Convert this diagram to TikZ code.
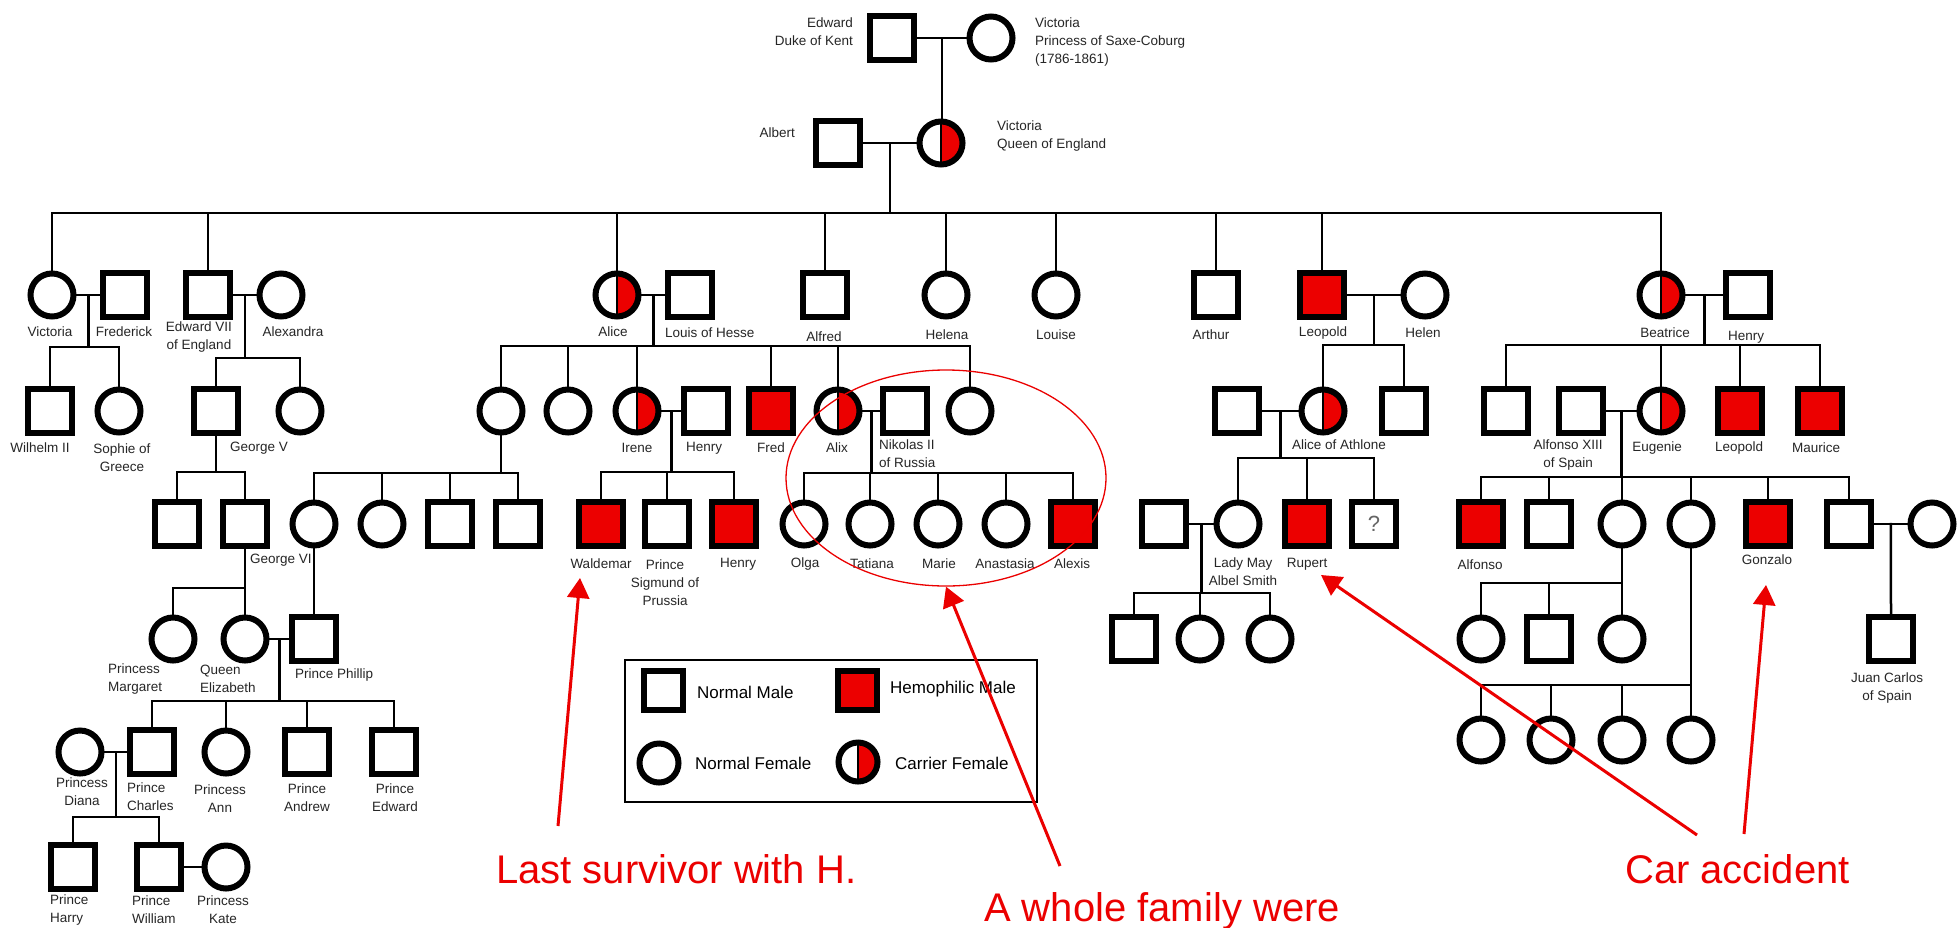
\documentclass[tikz,border=0pt]{standalone}
\usepackage{fontspec}
\setmainfont{Liberation Sans}
\usetikzlibrary{calc,arrows.meta,shapes.geometric}
\definecolor{hred}{RGB}{236,0,0}
\definecolor{notered}{RGB}{235,0,0}

% #1 start of the descent line, #2 height of the sibship bar,
% #3 first child, #4 last child, #5 all children
\newcommand\brood[5]{%
  \draw[kin] (#1) -- (#1 |- 0,#2);
  \draw[kin] (#3.north |- 0,#2) -- (#4.north |- 0,#2);
  \foreach \c in {#5} {\draw[kin] (\c.north) -- (\c.north |- 0,#2);}
}

\begin{document}
\begin{tikzpicture}[x=1pt,y=-1pt,
  kin/.style={line width=2.5, line cap=rect},
  sym/.style={draw, line width=6, inner sep=0, outer sep=3},
  male/.style={sym, rectangle, minimum size=44, fill=white},
  hemo/.style={male, fill=hred},
  female/.style={sym, circle, minimum size=43, fill=white},
  carrier/.style={female, path picture={
      \fill[hred] (path picture bounding box.north) rectangle (path picture bounding box.south east);
      \draw[line width=1.2] (path picture bounding box.north) -- (path picture bounding box.south);}},
  lbl/.style={font=\fontsize{13.5}{18}\selectfont, text=black!85, inner sep=0, align=center},
  lgtxt/.style={font=\fontsize{17}{20}\selectfont, inner sep=0, anchor=west},
  note/.style={text=notered, font=\fontsize{40}{44}\selectfont, inner sep=0, anchor=base west},
  warn/.style={draw=notered, line width=3, -{Triangle[length=20pt,width=22pt]}}]

\fill[white] (0,0) rectangle (1958,927);
\useasboundingbox (0,0) rectangle (1958,927);

% ---------- generation I and II ----------
\node[male] (edw) at (892,38) {};
\node[female] (vics) at (991,38) {};
\node[male] (albert) at (838,143) {};
\node[carrier] (queen) at (941,143) {};

% ---------- children of Victoria and Albert ----------
\node[female] (vicd) at (52,295) {};
\node[male] (fred) at (125,295) {};
\node[male] (ed7) at (208,295) {};
\node[female] (alexa) at (281,295) {};
\node[carrier] (alice) at (617,295) {};
\node[male] (louis) at (690,295) {};
\node[male] (alfred) at (825,295) {};
\node[female] (helena) at (946,295) {};
\node[female] (louise) at (1056,295) {};
\node[male] (arthur) at (1216,295) {};
\node[hemo] (leopold) at (1322,295) {};
\node[female] (helen) at (1425,295) {};
\node[carrier] (beatrice) at (1661,295) {};
\node[male] (henryb) at (1748,295) {};

% ---------- grandchildren ----------
\node[male] (wilhelm) at (50,411) {};
\node[female] (sophie) at (119,411) {};
\node[male] (georgev) at (216,411) {};
\node[female] (gvsis) at (300,411) {};
\node[female] (ac1) at (501,411) {};
\node[female] (ac2) at (568,411) {};
\node[carrier] (irene) at (637,411) {};
\node[male] (henryi) at (706,411) {};
\node[hemo] (fredh) at (771,411) {};
\node[carrier] (alix) at (838,411) {};
\node[male] (nikolas) at (905,411) {};
\node[female] (ac3) at (970,411) {};
\node[male] (athhus) at (1237,411) {};
\node[carrier] (aliceath) at (1323,411) {};
\node[male] (lsq) at (1404,411) {};
\node[male] (bsq) at (1506,411) {};
\node[male] (alf13) at (1581,411) {};
\node[carrier] (eugenie) at (1661,411) {};
\node[hemo] (leob) at (1740,411) {};
\node[hemo] (maurice) at (1820,411) {};

% ---------- great-grandchildren ----------
\node[male] (gv1) at (177,524) {};
\node[male] (georgevi) at (245,524) {};
\node[female] (ac1c1) at (314,524) {};
\node[female] (ac1c2) at (382,524) {};
\node[male] (ac1c3) at (450,524) {};
\node[male] (ac1c4) at (518,524) {};
\node[hemo] (waldemar) at (601,524) {};
\node[male] (sigmund) at (667,524) {};
\node[hemo] (henryw) at (734,524) {};
\node[female] (olga) at (804,524) {};
\node[female] (tatiana) at (870,524) {};
\node[female] (marie) at (938,524) {};
\node[female] (anastasia) at (1006,524) {};
\node[hemo] (alexis) at (1073,524) {};
\node[male] (lmhus) at (1164,524) {};
\node[female] (ladymay) at (1238,524) {};
\node[hemo] (rupert) at (1307,524) {};
\node[male] (qsq) at (1374,524) {\fontsize{22}{22}\selectfont\color{black!60}?};
\node[hemo] (alfonso) at (1481,524) {};
\node[male] (asq) at (1549,524) {};
\node[female] (ad1) at (1622,524) {};
\node[female] (ad2) at (1691,524) {};
\node[hemo] (gonzalo) at (1768,524) {};
\node[male] (jcf) at (1849,524) {};
\node[female] (jcm) at (1932,524) {};

% ---------- later generations ----------
\node[female] (margaret) at (173,639) {};
\node[female] (elizabeth) at (245,639) {};
\node[male] (phillip) at (314,639) {};
\node[male] (lm1) at (1134,639) {};
\node[female] (lm2) at (1200,639) {};
\node[female] (lm3) at (1270,639) {};
\node[female] (a1c1) at (1481,639) {};
\node[male] (a1c2) at (1549,639) {};
\node[female] (a1c3) at (1622,639) {};
\node[male] (juan) at (1891,639) {};

\node[female] (diana) at (80,752) {};
\node[male] (charles) at (152,752) {};
\node[female] (ann) at (226,752) {};
\node[male] (andrew) at (307,752) {};
\node[male] (edwardp) at (394,752) {};
\node[female] (s1) at (1481,740) {};
\node[female] (s2) at (1551,740) {};
\node[female] (s3) at (1622,740) {};
\node[female] (s4) at (1691,740) {};

\node[male] (harry) at (73,867) {};
\node[male] (william) at (159,867) {};
\node[female] (kate) at (226,867) {};

% ---------- marriages and descent ----------
\draw[kin] (edw.east) -- (vics.west);
\coordinate (m0) at ($(edw.east)!.5!(vics.west)$);
\draw[kin] (m0) -- (m0 |- queen.north);

\draw[kin] (albert.east) -- (queen.west);
\coordinate (m1) at ($(albert.east)!.5!(queen.west)$);
\brood{m1}{213}{vicd}{beatrice}{vicd,ed7,alice,alfred,helena,louise,arthur,leopold,beatrice}

\draw[kin] (vicd.east) -- (fred.west);
\coordinate (m2) at ($(vicd.east)!.5!(fred.west)$);
\brood{m2}{347}{wilhelm}{sophie}{wilhelm,sophie}

\draw[kin] (ed7.east) -- (alexa.west);
\coordinate (m3) at ($(ed7.east)!.5!(alexa.west)$);
\brood{m3}{358}{georgev}{gvsis}{georgev,gvsis}

\draw[kin] (alice.east) -- (louis.west);
\coordinate (m4) at ($(alice.east)!.5!(louis.west)$);
\brood{m4}{346}{ac1}{ac3}{ac1,ac2,irene,fredh,alix,ac3}

\draw[kin] (leopold.east) -- (helen.west);
\coordinate (m5) at ($(leopold.east)!.5!(helen.west)$);
\brood{m5}{345}{aliceath}{lsq}{aliceath,lsq}

\draw[kin] (beatrice.east) -- (henryb.west);
\coordinate (m6) at ($(beatrice.east)!.5!(henryb.west)$);
\brood{m6}{345}{bsq}{maurice}{bsq,eugenie,leob,maurice}

\brood{georgev.south}{472}{gv1}{georgevi}{gv1,georgevi}
\brood{ac1.south}{473}{ac1c1}{ac1c4}{ac1c1,ac1c2,ac1c3,ac1c4}

\draw[kin] (irene.east) -- (henryi.west);
\coordinate (m7) at ($(irene.east)!.5!(henryi.west)$);
\brood{m7}{472}{waldemar}{henryw}{waldemar,sigmund,henryw}

\draw[kin] (alix.east) -- (nikolas.west);
\coordinate (m8) at ($(alix.east)!.5!(nikolas.west)$);
\brood{m8}{473}{olga}{alexis}{olga,tatiana,marie,anastasia,alexis}

\draw[kin] (athhus.east) -- (aliceath.west);
\coordinate (m9) at ($(athhus.east)!.5!(aliceath.west)$);
\brood{m9}{458}{ladymay}{qsq}{ladymay,rupert,qsq}

\draw[kin] (alf13.east) -- (eugenie.west);
\coordinate (m10) at ($(alf13.east)!.5!(eugenie.west)$);
\brood{m10}{477}{alfonso}{jcf}{alfonso,asq,ad1,ad2,gonzalo,jcf}

\brood{georgevi.south}{588}{margaret}{elizabeth}{margaret,elizabeth}
\draw[kin] (ac1c1.south) -- (phillip.north);

\draw[kin] (lmhus.east) -- (ladymay.west);
\coordinate (m11) at ($(lmhus.east)!.5!(ladymay.west)$);
\brood{m11}{593}{lm1}{lm3}{lm1,lm2,lm3}

\brood{ad1.south}{583}{a1c1}{a1c3}{a1c1,a1c2,a1c3}
\brood{ad2.south}{685}{s1}{s4}{s1,s2,s3,s4}

\draw[kin] (jcf.east) -- (jcm.west);
\coordinate (m12) at ($(jcf.east)!.5!(jcm.west)$);
\draw[kin] (m12) -- (juan.north);

\draw[kin] (elizabeth.east) -- (phillip.west);
\coordinate (m13) at ($(elizabeth.east)!.5!(phillip.west)$);
\brood{m13}{701}{charles}{edwardp}{charles,ann,andrew,edwardp}

\draw[kin] (diana.east) -- (charles.west);
\coordinate (m14) at ($(diana.east)!.5!(charles.west)$);
\brood{m14}{817}{harry}{william}{harry,william}

\draw[kin] (william.east) -- (kate.west);

% ---------- names ----------
\node[lbl, anchor=east, align=right] (t-edw) at (853,32) {Edward\\Duke of Kent};
\node[lbl, anchor=west, align=left] (t-vics) at (1035,42) {Victoria\\Princess of Saxe-Coburg\\(1786-1861)};
\node[lbl, anchor=east] (t-albert) at (795,133) {Albert};
\node[lbl, anchor=west, align=left] (t-queen) at (997,136) {Victoria\\Queen of England};

\node[lbl] (t-vicd) at (50,332) {Victoria};
\node[lbl] (t-fred) at (124,332) {Frederick};
\node[lbl] (t-ed7) at (199,337) {Edward VII\\of England};
\node[lbl] (t-alexa) at (293,332) {Alexandra};
\node[lbl] (t-alice) at (613,332) {Alice};
\node[lbl, anchor=west] (t-louis) at (665,333) {Louis of Hesse};
\node[lbl] (t-alfred) at (824,337) {Alfred};
\node[lbl] (t-helena) at (947,335) {Helena};
\node[lbl] (t-louise) at (1056,335) {Louise};
\node[lbl] (t-arthur) at (1211,335) {Arthur};
\node[lbl] (t-leopold) at (1323,333) {Leopold};
\node[lbl] (t-helen) at (1423,333) {Helen};
\node[lbl] (t-beatrice) at (1665,333) {Beatrice};
\node[lbl] (t-henryb) at (1746,337) {Henry};

\node[lbl] (t-wilhelm) at (40,448) {Wilhelm II};
\node[lbl] (t-sophie) at (122,458) {Sophie of\\Greece};
\node[lbl, anchor=west] (t-georgev) at (230,448) {George V};
\node[lbl] (t-irene) at (637,448) {Irene};
\node[lbl] (t-henryi) at (704,448) {Henry};
\node[lbl] (t-fredh) at (771,448) {Fred};
\node[lbl] (t-alix) at (837,448) {Alix};
\node[lbl, anchor=west, align=left] (t-nikolas) at (879,454) {Nikolas II\\of Russia};
\node[lbl] (t-aliceath) at (1339,445) {Alice of Athlone};
\node[lbl] (t-alf13) at (1568,455) {Alfonso XIII\\of Spain};
\node[lbl] (t-eugenie) at (1657,448) {Eugenie};
\node[lbl] (t-leob) at (1739,448) {Leopold};
\node[lbl] (t-maurice) at (1816,448) {Maurice};

\node[lbl, anchor=west] (t-georgevi) at (250,560) {George VI};
\node[lbl] (t-waldemar) at (601,564) {Waldemar};
\node[lbl] (t-sigmund) at (665,583) {Prince\\Sigmund of\\Prussia};
\node[lbl] (t-henryw) at (738,564) {Henry};
\node[lbl] (t-olga) at (805,564) {Olga};
\node[lbl] (t-tatiana) at (872,564) {Tatiana};
\node[lbl] (t-marie) at (939,564) {Marie};
\node[lbl] (t-anastasia) at (1005,564) {Anastasia};
\node[lbl] (t-alexis) at (1072,564) {Alexis};
\node[lbl] (t-ladymay) at (1243,572) {Lady May\\Albel Smith};
\node[lbl] (t-rupert) at (1307,564) {Rupert};
\node[lbl] (t-alfonso) at (1480,565) {Alfonso};
\node[lbl] (t-gonzalo) at (1767,560) {Gonzalo};
\node[lbl] (t-juan) at (1887,688) {Juan Carlos\\of Spain};

\node[lbl, anchor=west, align=left] (t-margaret) at (108,679) {Princess\\Margaret};
\node[lbl, anchor=west, align=left] (t-elizabeth) at (200,679) {Queen\\Elizabeth};
\node[lbl, anchor=west] (t-phillip) at (295,675) {Prince Phillip};

\node[lbl] (t-diana) at (82,792) {Princess\\Diana};
\node[lbl, anchor=west, align=left] (t-charles) at (127,797) {Prince\\Charles};
\node[lbl] (t-ann) at (220,799) {Princess\\Ann};
\node[lbl] (t-andrew) at (307,798) {Prince\\Andrew};
\node[lbl] (t-edwardp) at (395,798) {Prince\\Edward};

\node[lbl, anchor=west, align=left] (t-harry) at (50,910) {Prince\\Harry};
\node[lbl, anchor=west, align=left] (t-william) at (132,910) {Prince\\William};
\node[lbl] (t-kate) at (223,910) {Princess\\Kate};

% ---------- key ----------
\node[draw, line width=2, minimum width=412, minimum height=142, inner sep=0, anchor=north west] (legend) at (624,659) {};
\node[male, minimum size=39] (lgm) at (663,690) {};
\node[lgtxt] (lgmt) at (697,692) {Normal Male};
\node[hemo, minimum size=39] (lgh) at (857,690) {};
\node[lgtxt] (lght) at (890,689) {Hemophilic Male};
\node[female, minimum size=39] (lgf) at (659,763) {};
\node[lgtxt] (lgft) at (695,763) {Normal Female};
\node[carrier, minimum size=39] (lgc) at (858,762) {};
\node[lgtxt] (lgct) at (895,763) {Carrier Female};

% ---------- remarks ----------
\node[draw=notered, line width=1.3, ellipse, minimum width=320, minimum height=216, inner sep=0] (ring) at (946,478) {};

\node[note] (n-last) at (496,883) {Last survivor with H.};
\node[note] (n-fam) at (984,921) {A whole family were};
\node[note] (n-car) at (1625,883) {Car accident};

\coordinate (a-last) at (558,826);
\coordinate (a-fam) at (1060,866);
\coordinate (a-car1) at (1697,835);
\coordinate (a-car2) at (1744,834);
\coordinate (tip-w) at (580,578);
\coordinate (tip-r) at (1321,575);
\coordinate (tip-g) at (1766,585);

\draw[warn] (a-last) -- (tip-w);
\draw[warn] (a-fam) -- (ring.south);
\draw[warn] (a-car1) -- (tip-r);
\draw[warn] (a-car2) -- (tip-g);

\end{tikzpicture}
\end{document}
